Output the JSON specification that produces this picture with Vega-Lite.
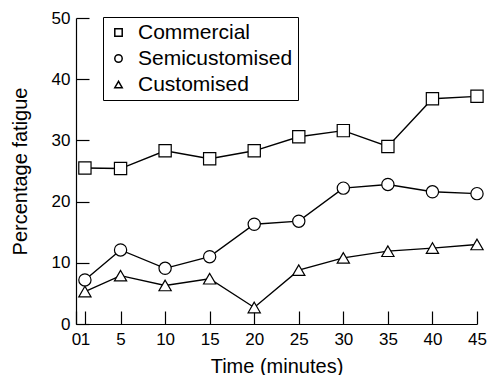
{
  "$schema": "https://vega.github.io/schema/vega-lite/v6.json",
  "width": 401,
  "height": 306,
  "autosize": {"type": "none"},
  "padding": {"left": 76, "top": 18, "right": 10, "bottom": 51},
  "background": "white",
  "config": {
    "view": {"stroke": null},
    "font": "Liberation Sans",
    "axis": {"domainColor": "black", "tickColor": "black", "labelColor": "black", "titleColor": "black", "grid": false, "labelFont": "Liberation Sans", "titleFont": "Liberation Sans", "labelFontSize": 17, "titleFontSize": 20, "titleFontWeight": "normal", "domainWidth": 1.2, "tickWidth": 1.2}
  },
  "data": {
    "values": [
      {"t": 1, "v": 25.5, "s": "Commercial"},
      {"t": 5, "v": 25.4, "s": "Commercial"},
      {"t": 10, "v": 28.3, "s": "Commercial"},
      {"t": 15, "v": 27.0, "s": "Commercial"},
      {"t": 20, "v": 28.3, "s": "Commercial"},
      {"t": 25, "v": 30.6, "s": "Commercial"},
      {"t": 30, "v": 31.6, "s": "Commercial"},
      {"t": 35, "v": 29.0, "s": "Commercial"},
      {"t": 40, "v": 36.8, "s": "Commercial"},
      {"t": 45, "v": 37.2, "s": "Commercial"},
      {"t": 1, "v": 7.2, "s": "Semicustomised"},
      {"t": 5, "v": 12.1, "s": "Semicustomised"},
      {"t": 10, "v": 9.1, "s": "Semicustomised"},
      {"t": 15, "v": 11.0, "s": "Semicustomised"},
      {"t": 20, "v": 16.3, "s": "Semicustomised"},
      {"t": 25, "v": 16.8, "s": "Semicustomised"},
      {"t": 30, "v": 22.2, "s": "Semicustomised"},
      {"t": 35, "v": 22.8, "s": "Semicustomised"},
      {"t": 40, "v": 21.6, "s": "Semicustomised"},
      {"t": 45, "v": 21.3, "s": "Semicustomised"},
      {"t": 1, "v": 5.3, "s": "Customised"},
      {"t": 5, "v": 7.9, "s": "Customised"},
      {"t": 10, "v": 6.3, "s": "Customised"},
      {"t": 15, "v": 7.4, "s": "Customised"},
      {"t": 20, "v": 2.7, "s": "Customised"},
      {"t": 25, "v": 8.8, "s": "Customised"},
      {"t": 30, "v": 10.8, "s": "Customised"},
      {"t": 35, "v": 11.9, "s": "Customised"},
      {"t": 40, "v": 12.4, "s": "Customised"},
      {"t": 45, "v": 13.0, "s": "Customised"}
    ]
  },
  "encoding": {
    "x": {"field": "t", "type": "quantitative", "scale": {"domain": [0, 45], "nice": false}, "axis": {"title": "Time (minutes)", "values": [0, 1, 5, 10, 15, 20, 25, 30, 35, 40, 45], "tickSize": -13, "labelPadding": 20, "titlePadding": 9, "labelOverlap": false, "labelFlush": false}},
    "y": {"field": "v", "type": "quantitative", "scale": {"domain": [0, 50], "nice": false}, "axis": {"title": "Percentage fatigue", "values": [0, 10, 20, 30, 40, 50], "tickSize": -13, "labelPadding": 19, "titlePadding": 21, "labelFlush": false}}
  },
  "layer": [
    {"mark": {"type": "line", "color": "black", "strokeWidth": 1.4}, "encoding": {"detail": {"field": "s"}}},
    {"mark": {"type": "point", "filled": true, "fill": "white", "stroke": "black", "strokeWidth": 1.2, "size": 150, "opacity": 1},
     "encoding": {"shape": {"field": "s", "type": "nominal", "scale": {"domain": ["Commercial", "Semicustomised", "Customised"], "range": ["square", "circle", "triangle-up"]},
       "legend": {"title": null, "orient": "none", "legendX": 27, "legendY": -1, "strokeColor": "black", "padding": 5, "labelFontSize": 21, "labelFont": "Liberation Sans", "labelColor": "black", "symbolSize": 55, "rowPadding": 4, "labelOffset": 9,
         "encode": {"symbols": {"update": {"stroke": {"value": "black"}, "strokeWidth": {"value": 1}, "fill": {"value": "white"}, "opacity": {"value": 1}}}}}}}}
  ]
}
